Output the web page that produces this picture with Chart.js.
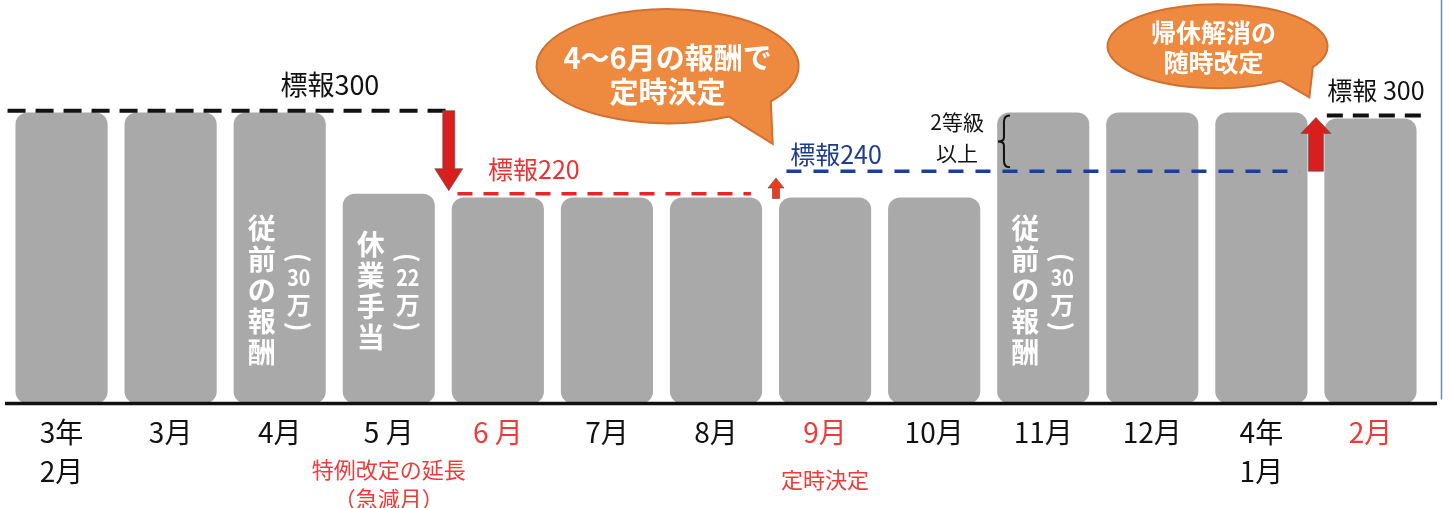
<!DOCTYPE html>
<html lang="ja">
<head>
<meta charset="utf-8">
<script src="https://cdn.jsdelivr.net/npm/chart.js@4.4.1/dist/chart.umd.min.js"></script>
<style>
  html, body { margin: 0; padding: 0; background: #fff; }
  #wrap { width: 1449px; height: 508px; position: relative; }
</style>
</head>
<body>
<div id="wrap"><canvas id="c"></canvas></div>
<script>
// ── データ ──
const months = [['3年', '2月'], '3月', '4月', '5 月', '6 月', '7月', '8月', '9月', '10月', '11月', '12月', ['4年', '1月'], '2月'];
const wages = [298, 298, 298, 215, 211, 211, 211, 211, 211, 298, 298, 298, 292];
const redMonths = [4, 7, 12];

// 標報ライン（位置は図から読んだ値）
const gradeLevels = [300, 215, 238, 295];
const gradeTexts = ['標報300', '標報220', '標報240', '標報 300'];
const gradeNote = ['2等級', '以上'];

// 棒の中の縦書き
const noteBars = [2, 3, 9];
const noteMain = ['従前の報酬', '休業手当', '従前の報酬'];
const noteAmount = ['30', '22', '30'];

// 吹き出し
const balloonLines = [['4～6月の報酬で', '定時決定'], ['帰休解消の', '随時改定']];

// 軸下の注記
const footBars = [3, 7];
const footNotes = [['特例改定の延長', '（急減月）'], ['定時決定']];

const FONT = '"Noto Sans CJK JP", "Noto Sans", sans-serif';
const RED = '#f03a3a';

function dashLine(ctx, x0, x1, y, color, w, pat) {
  ctx.save();
  ctx.strokeStyle = color;
  ctx.lineWidth = w;
  ctx.setLineDash(pat);
  ctx.beginPath();
  ctx.moveTo(x0, y);
  ctx.lineTo(x1, y);
  ctx.stroke();
  ctx.restore();
}

function arrow(ctx, xc, yFrom, yTo, shaft, headW, headH, color) {
  const dir = yTo > yFrom ? 1 : -1;
  const yb = yTo - dir * headH;
  ctx.save();
  ctx.beginPath();
  ctx.moveTo(xc - shaft / 2, yFrom);
  ctx.lineTo(xc + shaft / 2, yFrom);
  ctx.lineTo(xc + shaft / 2, yb);
  ctx.lineTo(xc + headW / 2, yb);
  ctx.lineTo(xc, yTo);
  ctx.lineTo(xc - headW / 2, yb);
  ctx.lineTo(xc - shaft / 2, yb);
  ctx.closePath();
  ctx.fillStyle = color;
  ctx.fill();
  ctx.strokeStyle = 'rgba(90,90,90,0.7)';
  ctx.lineWidth = 1;
  ctx.stroke();
  ctx.restore();
}

function balloon(ctx, cx, cy, rx, ry, t1, t2, tipX, tipY) {
  const r = d => d * Math.PI / 180;
  ctx.save();
  ctx.beginPath();
  ctx.ellipse(cx, cy, rx, ry, 0, r(t2), r(t1) + Math.PI * 2);
  ctx.lineTo(tipX, tipY);
  ctx.closePath();
  ctx.fillStyle = '#ee8a40';
  ctx.fill();
  ctx.strokeStyle = '#d27030';
  ctx.lineWidth = 2;
  ctx.stroke();
  ctx.restore();
}

function text(ctx, s, x, y, size, color, bold) {
  ctx.font = (bold ? 'bold ' : '') + size + 'px ' + FONT;
  ctx.fillStyle = color;
  ctx.textAlign = 'center';
  ctx.textBaseline = 'middle';
  ctx.fillText(s, x, y);
}

const annotate = {
  id: 'annotate',
  afterDatasetsDraw(chart) {
    const { ctx, chartArea: area } = chart;
    const xs = chart.scales.x, ys = chart.scales.y;
    const px = i => xs.getPixelForValue(i);
    const py = v => ys.getPixelForValue(v);
    const bottom = area.bottom;

    // 軸線
    ctx.save();
    ctx.strokeStyle = '#111';
    ctx.lineWidth = 3.5;
    ctx.beginPath();
    ctx.moveTo(5, bottom);
    ctx.lineTo(1437, bottom);
    ctx.stroke();
    // 右の枠線
    ctx.strokeStyle = '#6a8cb4';
    ctx.lineWidth = 1.5;
    ctx.beginPath();
    ctx.moveTo(1441.5, 0);
    ctx.lineTo(1441.5, bottom - 4);
    ctx.stroke();
    ctx.restore();

    // 棒の中の縦書き
    noteBars.forEach((b, k) => {
      const cx = px(b);
      const mid = bottom - 113;
      const chars = [...noteMain[k]];
      chars.forEach((ch, j) => text(ctx, ch, cx - 18, mid + (j - (chars.length - 1) / 2) * 31, 28, '#fff', true));
      const sx = cx + 19;
      ctx.save();
      ctx.translate(sx, mid - 33);
      ctx.rotate(Math.PI / 2);
      text(ctx, '(', 0, 0, 26, '#fff', true);
      ctx.restore();
      ctx.save();
      ctx.translate(sx, mid - 13);
      ctx.scale(0.85, 1);
      text(ctx, noteAmount[k], 0, 0, 23, '#fff', true);
      ctx.restore();
      text(ctx, '万', sx, mid + 14, 24, '#fff', true);
      ctx.save();
      ctx.translate(sx, mid + 36);
      ctx.rotate(Math.PI / 2);
      text(ctx, ')', 0, 0, 26, '#fff', true);
      ctx.restore();
    });

    // 標報ライン
    dashLine(ctx, px(-0.495), px(3.6), py(gradeLevels[0]), '#111', 4, [18, 10]);
    dashLine(ctx, px(3.63), px(6.32), py(gradeLevels[1]), '#e8262a', 3.5, [15, 11]);
    dashLine(ctx, px(6.646), px(11.35), py(gradeLevels[2]), '#1a3f96', 3.5, [15, 12]);
    dashLine(ctx, px(11.6), px(12.49), py(gradeLevels[3]), '#111', 4, [16, 10]);

    text(ctx, gradeTexts[0], px(2.46), py(327), 27, '#111', false);
    text(ctx, gradeTexts[1], px(4.33), py(240), 25, '#ee3030', false);
    text(ctx, gradeTexts[2], px(7.1), py(255), 25, '#1f3c8c', false);
    text(ctx, gradeTexts[3], px(12.05), py(321), 25, '#111', false);

    // 矢印
    arrow(ctx, px(3.55), py(300), py(218), 12, 28, 22, '#d91e1e');
    arrow(ctx, px(6.55), py(210), py(231), 7, 16, 10, '#f03a1e');
    arrow(ctx, px(11.5), py(238), py(293), 15, 30, 16, '#d91e1e');

    // 2等級以上 と括弧
    text(ctx, gradeNote[0], px(8.21), py(288), 21, '#111', false);
    text(ctx, gradeNote[1], px(8.21), py(257), 21, '#111', false);
    const bx = px(8.64), bt = py(295), bb = py(242), bm = (bt + bb) / 2;
    ctx.save();
    ctx.strokeStyle = '#111';
    ctx.lineWidth = 2;
    ctx.beginPath();
    ctx.moveTo(bx + 6, bt);
    ctx.quadraticCurveTo(bx, bt, bx, bt + 6);
    ctx.lineTo(bx, bm - 4);
    ctx.quadraticCurveTo(bx, bm, bx - 6, bm);
    ctx.quadraticCurveTo(bx, bm, bx, bm + 4);
    ctx.lineTo(bx, bb - 6);
    ctx.quadraticCurveTo(bx, bb, bx + 6, bb);
    ctx.stroke();
    ctx.restore();

    // 吹き出し
    const c1x = px(5.556), c1y = py(345.5);
    balloon(ctx, c1x, c1y, 131, 57, 38, 62, px(6.52), py(266));
    text(ctx, balloonLines[0][0], c1x, c1y - 8, 29, '#fff', true);
    text(ctx, balloonLines[0][1], c1x, c1y + 26, 29, '#fff', true);
    const c2x = px(10.598), c2y = py(366);
    balloon(ctx, c2x, c2y, 110, 42, 30, 55, px(11.44), py(313.6));
    text(ctx, balloonLines[1][0], c2x - 4, c2y - 14, 25, '#fff', true);
    text(ctx, balloonLines[1][1], c2x - 4, c2y + 16, 25, '#fff', true);

    // 軸下の注記
    text(ctx, footNotes[0][0], px(footBars[0]), bottom + 66, 22, RED, false);
    text(ctx, footNotes[0][1], px(footBars[0]), bottom + 95, 22, RED, false);
    text(ctx, footNotes[1][0], px(footBars[1]), bottom + 76, 22, RED, false);
  }
};

new Chart(document.getElementById('c'), {
  type: 'bar',
  data: {
    labels: months,
    datasets: [{
      data: wages,
      backgroundColor: '#a9a9a9',
      borderRadius: 12,
      borderSkipped: false,
      barPercentage: 0.845,
      categoryPercentage: 1
    }]
  },
  options: {
    responsive: true,
    maintainAspectRatio: false,
    animation: false,
    layout: { padding: { left: 7, right: 24, top: 13, bottom: 8 } },
    plugins: { legend: { display: false }, tooltip: { enabled: false } },
    scales: {
      x: {
        grid: { display: false, drawTicks: false },
        border: { display: false },
        ticks: {
          color: ctx => redMonths.includes(ctx.index) ? RED : '#111',
          font: { family: FONT, size: 28, lineHeight: 1.4 },
          padding: 9,
          autoSkip: false,
          maxRotation: 0
        }
      },
      y: { display: false, min: 0, max: 400 }
    }
  },
  plugins: [annotate]
});
</script>
</body>
</html>
